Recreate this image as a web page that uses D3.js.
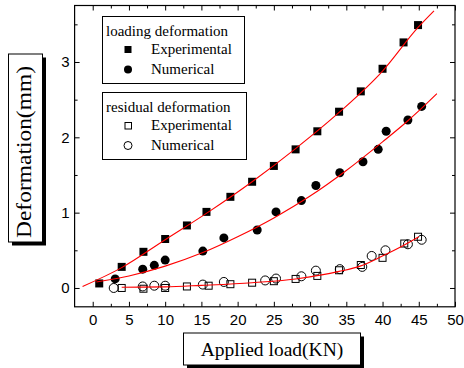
<!DOCTYPE html>
<html>
<head>
<meta charset="utf-8">
<script src="https://cdn.jsdelivr.net/npm/d3@7"></script>
<style>
  html, body { margin: 0; padding: 0; background: #fff; }
  svg { display: block; }
</style>
</head>
<body>
<svg id="chart" width="464" height="368"></svg>
<script>
// ---- data ----
const loadExpX = [0.9, 4, 7, 10, 13, 15.7, 19, 22, 25, 28, 31, 34, 37, 40, 42.9, 44.9];
const loadExpY = [0.06, 0.28, 0.48, 0.65, 0.83, 1.01, 1.21, 1.41, 1.62, 1.84, 2.08, 2.34, 2.61, 2.91, 3.26, 3.49];

const loadNumX = [3.1, 6.9, 8.5, 10, 15.2, 18.1, 22.7, 25.3, 28.8, 30.8, 34.1, 37.3, 39.4, 40.5, 43.5, 45.4];
const loadNumY = [0.12, 0.25, 0.30, 0.37, 0.49, 0.665, 0.77, 1.01, 1.16, 1.36, 1.53, 1.675, 1.84, 2.08, 2.23, 2.41];

const resExpX = [4, 7, 10, 13, 16, 19, 22, 25, 28, 31, 34, 37, 40, 43, 44.9];
const resExpY = [0, -0.01, 0, 0.02, 0.03, 0.05, 0.07, 0.09, 0.12, 0.16, 0.235, 0.305, 0.40, 0.59, 0.68];

const resNumX = [2.9, 6.9, 8.5, 10, 15.2, 18.1, 23.8, 25.3, 28.8, 30.8, 34.1, 37.2, 38.5, 40.4, 43.5, 45.4];
const resNumY = [0, 0.02, 0.03, 0.03, 0.045, 0.08, 0.10, 0.125, 0.155, 0.23, 0.25, 0.28, 0.425, 0.50, 0.58, 0.64];

// fitted curves (red)
const fitLoadExpX = [-1.4, 4, 10, 16, 22, 28, 34, 40, 44.9, 47.1];
const fitLoadExpY = [0.02, 0.27, 0.64, 1.01, 1.41, 1.85, 2.33, 2.88, 3.46, 3.68];

const fitLoadNumX = [0.5, 5, 10, 15.2, 20, 25, 30, 35, 40, 43.5, 45, 47.5];
const fitLoadNumY = [0.08, 0.16, 0.29, 0.47, 0.68, 0.93, 1.22, 1.56, 1.94, 2.22, 2.35, 2.58];

const fitResX = [4, 10, 15, 22, 28, 31.4, 34, 36.9, 39.9, 43, 45];
const fitResY = [0.01, 0.015, 0.035, 0.07, 0.12, 0.17, 0.22, 0.29, 0.42, 0.57, 0.68];

const xMajorTicks = [0, 5, 10, 15, 20, 25, 30, 35, 40, 45, 50];
const xMinorTicks = [-2.5, 2.5, 7.5, 12.5, 17.5, 22.5, 27.5, 32.5, 37.5, 42.5, 47.5];
const yMajorTicks = [0, 1, 2, 3];
const yMinorTicks = [-0.5, 0.5, 1.5, 2.5, 3.5];

const xTitle = "Applied load(KN)";
const yTitle = "Deformation(mm)";
const legend1Title = "loading deformation";
const legend2Title = "residual deformation";
const legendLabels = ["Experimental", "Numerical"];

// ---- drawing ----
const svg = d3.select("#chart");
svg.append("rect").attr("width", 464).attr("height", 368).attr("fill", "#fff");

const L = 74.6, R = 455, T = 5.5, B = 306.8;
const x = d3.scaleLinear().domain([-2.5, 50]).range([L, R]);
const y = d3.scaleLinear().domain([-0.25, 3.75]).range([B, T]);

const sans = "'Liberation Sans', Arial, sans-serif";
const serif = "'Liberation Serif', 'Times New Roman', serif";

function styleAxis(g) {
  g.select(".domain").remove();
  g.selectAll("line").attr("stroke", "#000").attr("stroke-width", 1);
  g.selectAll("text").attr("fill", "#000").style("font-family", sans).style("font-size", "15px");
}

// bottom
svg.append("g").attr("transform", `translate(0,${B})`)
  .call(d3.axisBottom(x).tickValues(xMajorTicks).tickSize(-5).tickPadding(7.5).tickFormat(d3.format("d")))
  .call(styleAxis);
svg.append("g").attr("transform", `translate(0,${B})`)
  .call(d3.axisBottom(x).tickValues(xMinorTicks.filter(v => v > -2.5)).tickSize(-3).tickFormat(""))
  .call(styleAxis);
// top
svg.append("g").attr("transform", `translate(0,${T})`)
  .call(d3.axisTop(x).tickValues(xMajorTicks).tickSize(-5).tickFormat(""))
  .call(styleAxis);
svg.append("g").attr("transform", `translate(0,${T})`)
  .call(d3.axisTop(x).tickValues(xMinorTicks.filter(v => v > -2.5)).tickSize(-3).tickFormat(""))
  .call(styleAxis);
// left
svg.append("g").attr("transform", `translate(${L},0)`)
  .call(d3.axisLeft(y).tickValues(yMajorTicks).tickSize(-5).tickPadding(5).tickFormat(d3.format("d")))
  .call(styleAxis);
svg.append("g").attr("transform", `translate(${L},0)`)
  .call(d3.axisLeft(y).tickValues(yMinorTicks.filter(v => v > -0.25)).tickSize(-3).tickFormat(""))
  .call(styleAxis);
// right
svg.append("g").attr("transform", `translate(${R},0)`)
  .call(d3.axisRight(y).tickValues(yMajorTicks).tickSize(-5).tickFormat(""))
  .call(styleAxis);
svg.append("g").attr("transform", `translate(${R},0)`)
  .call(d3.axisRight(y).tickValues(yMinorTicks.filter(v => v > -0.25)).tickSize(-3).tickFormat(""))
  .call(styleAxis);

// frame
svg.append("rect").attr("x", L).attr("y", T).attr("width", R - L).attr("height", B - T)
  .attr("fill", "none").attr("stroke", "#000").attr("stroke-width", 1.2);

const plot = svg.append("g");

function pts(xs, ys) { return xs.map((v, i) => [v, ys[i]]); }

// markers
const sq = 8, rc = 4.5;
plot.append("g").selectAll("rect").data(pts(loadExpX, loadExpY)).join("rect")
  .attr("x", d => x(d[0]) - sq / 2).attr("y", d => y(d[1]) - sq / 2)
  .attr("width", sq).attr("height", sq).attr("fill", "#000");
plot.append("g").selectAll("circle").data(pts(loadNumX, loadNumY)).join("circle")
  .attr("cx", d => x(d[0])).attr("cy", d => y(d[1])).attr("r", rc).attr("fill", "#000");
plot.append("g").selectAll("rect").data(pts(resExpX, resExpY)).join("rect")
  .attr("x", d => x(d[0]) - sq / 2 + 0.5).attr("y", d => y(d[1]) - sq / 2 + 0.5)
  .attr("width", sq - 1).attr("height", sq - 1).attr("fill", "none").attr("stroke", "#000").attr("stroke-width", 1);
plot.append("g").selectAll("circle").data(pts(resNumX, resNumY)).join("circle")
  .attr("cx", d => x(d[0])).attr("cy", d => y(d[1])).attr("r", rc).attr("fill", "none")
  .attr("stroke", "#000").attr("stroke-width", 1);

// fit lines
const line = d3.line().x(d => x(d[0])).y(d => y(d[1])).curve(d3.curveMonotoneX);
[[fitLoadExpX, fitLoadExpY], [fitLoadNumX, fitLoadNumY], [fitResX, fitResY]].forEach(([xs, ys]) => {
  plot.append("path").datum(pts(xs, ys)).attr("d", line)
    .attr("fill", "none").attr("stroke", "#ff0000").attr("stroke-width", 1.1);
});

// legends
function legendBox(x0, y0, w, h, title, filled, titleBase) {
  const g = svg.append("g");
  g.append("rect").attr("x", x0 + 0.5).attr("y", y0 + 0.5).attr("width", w).attr("height", h)
    .attr("fill", "#fff").attr("stroke", "#000").attr("stroke-width", 1);
  g.append("text").attr("x", x0 + 4).attr("y", titleBase).text(title)
    .style("font-family", serif).style("font-size", "15px").attr("fill", "#000");
  const rows = [titleBase + 18.5, titleBase + 38.5];
  const mx = 128;
  // square
  if (filled) {
    g.append("rect").attr("x", mx - 3.5).attr("y", rows[0] - 4.5 - 3.5).attr("width", 7).attr("height", 7).attr("fill", "#000");
    g.append("circle").attr("cx", mx).attr("cy", rows[1] - 4.5).attr("r", 4).attr("fill", "#000");
  } else {
    g.append("rect").attr("x", mx - 3).attr("y", rows[0] - 4.5 - 3).attr("width", 6.5).attr("height", 6.5)
      .attr("fill", "none").attr("stroke", "#000").attr("stroke-width", 1);
    g.append("circle").attr("cx", mx).attr("cy", rows[1] - 4.5).attr("r", 4)
      .attr("fill", "none").attr("stroke", "#000").attr("stroke-width", 1);
  }
  legendLabels.forEach((lab, i) => {
    g.append("text").attr("x", 151).attr("y", rows[i]).text(lab)
      .style("font-family", serif).style("font-size", "15px").attr("fill", "#000");
  });
}
legendBox(102, 16, 142, 67, legend1Title, true, 35.5);
legendBox(102, 92, 144, 67, legend2Title, false, 111.5);

// axis title boxes with shadows
function titleBox(x0, y0, w, h) {
  svg.append("rect").attr("x", x0 + 4).attr("y", y0 + 4).attr("width", w).attr("height", h).attr("fill", "#000");
  svg.append("rect").attr("x", x0 + 0.5).attr("y", y0 + 0.5).attr("width", w).attr("height", h)
    .attr("fill", "#fff").attr("stroke", "#000").attr("stroke-width", 1);
}
titleBox(183, 332.5, 177, 32);
svg.append("text").attr("x", 272).attr("y", 355.5).attr("text-anchor", "middle").text(xTitle)
  .style("font-family", serif).style("font-size", "19.5px").attr("fill", "#000");

titleBox(8, 53.5, 34, 188);
svg.append("text").attr("transform", "translate(31,152) rotate(-90)").attr("text-anchor", "middle").text(yTitle)
  .attr("textLength", 172).attr("lengthAdjust", "spacingAndGlyphs")
  .style("font-family", serif).style("font-size", "21px").attr("fill", "#000");
</script>
</body>
</html>
